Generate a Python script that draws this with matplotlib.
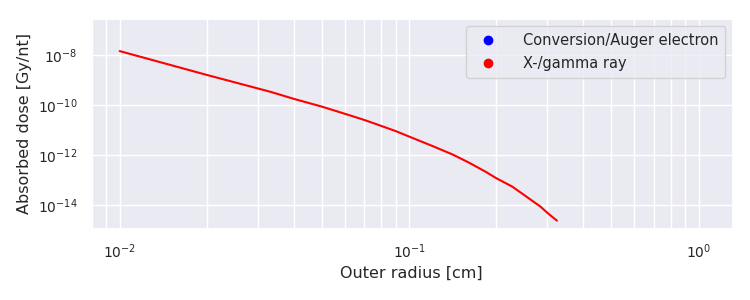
import numpy as np
import matplotlib.pyplot as plt
import seaborn as sns
from matplotlib.lines import Line2D

# X-/gamma ray absorbed dose vs outer radius
radius_cm = [0.010, 0.020, 0.033, 0.040, 0.050, 0.060, 0.070, 0.080, 0.090,
             0.100, 0.120, 0.141, 0.161, 0.184, 0.200, 0.227, 0.252,
             0.284, 0.303, 0.324]
dose_gamma = [1.42e-8, 1.58e-9, 3.4e-10, 1.74e-10, 8.5e-11, 4.4e-11, 2.5e-11,
              1.45e-11, 8.9e-12, 5.4e-12, 2.3e-12, 1.05e-12, 4.9e-13,
              2.1e-13, 1.17e-13, 5.4e-14, 2.3e-14, 8.6e-15, 4.4e-15, 2.35e-15]

legend_labels = ["Conversion/Auger electron", "X-/gamma ray"]
legend_colors = ["blue", "red"]

sns.set_theme(style="darkgrid")
plt.rcParams["font.family"] = ["DejaVu Sans"]

fig = plt.figure(figsize=(7.5, 3), dpi=100)
ax = fig.add_axes([0.121, 0.237, 0.856, 0.700])

ax.plot(radius_cm, dose_gamma, color="red", linewidth=1.5)

ax.set_xscale("log")
ax.set_yscale("log")
ax.set_xlim(10 ** -2.1, 10 ** 0.118)
ax.set_ylim(10 ** -14.96, 10 ** -6.56)
ax.set_yticks([1e-14, 1e-12, 1e-10, 1e-8])
ax.yaxis.set_minor_locator(plt.NullLocator())
ax.grid(True, which="major", color="white", linewidth=1.0)
ax.grid(True, which="minor", axis="x", color="white", linewidth=1.0)
ax.tick_params(axis="both", which="major", labelsize=10, colors="#262626")

ax.set_xlabel("Outer radius [cm]", fontsize=11.5, color="#262626")
ax.set_ylabel("Absorbed dose [Gy/nt]", fontsize=11.5, color="#262626")

handles = [Line2D([], [], linestyle="none", marker="o", markersize=6, color=c)
           for c in legend_colors]
ax.legend(handles, legend_labels, loc="upper right", fontsize=10.5,
          handletextpad=1.4, borderpad=0.5)

fig.savefig("out.png", dpi=100)
